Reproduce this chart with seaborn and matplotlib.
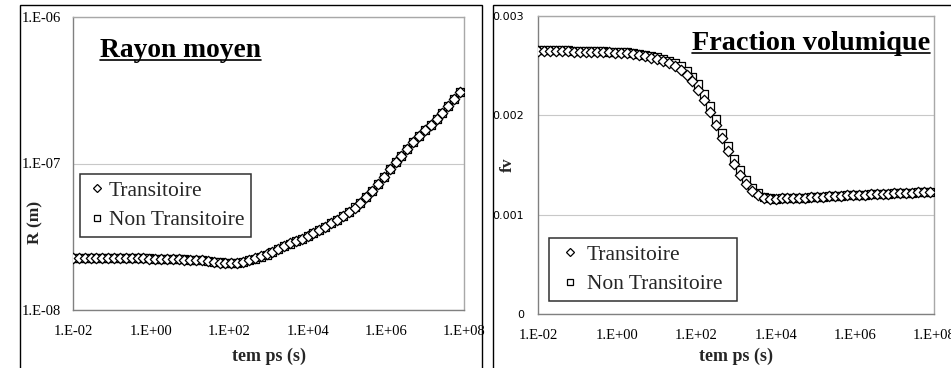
import matplotlib
matplotlib.use("Agg")
import matplotlib.pyplot as plt
from matplotlib.lines import Line2D
from matplotlib.patches import Rectangle
from matplotlib.ticker import FuncFormatter, FixedLocator, NullLocator
import seaborn as sns
import numpy as np

# Data

# time exponents, t = 10**exp  (s)
t_exp = [-2.00, -1.85, -1.70, -1.55, -1.40, -1.25, -1.10, -0.95, -0.80, -0.65,
         -0.50, -0.35, -0.20, -0.05, 0.10, 0.25, 0.40, 0.55, 0.70, 0.85,
         1.00, 1.15, 1.30, 1.45, 1.60, 1.75, 1.90, 2.05, 2.20, 2.35,
         2.50, 2.65, 2.80, 2.95, 3.10, 3.25, 3.40, 3.55, 3.70, 3.85,
         4.00, 4.15, 4.30, 4.45, 4.60, 4.75, 4.90, 5.05, 5.20, 5.35,
         5.50, 5.65, 5.80, 5.95, 6.10, 6.25, 6.40, 6.55, 6.70, 6.85,
         7.00, 7.15, 7.30, 7.45, 7.60, 7.75, 7.90]

# mean radius, units of 1e-8 m
r_trans = [2.27, 2.27, 2.27, 2.27, 2.27, 2.27, 2.27, 2.27, 2.26, 2.26,
           2.26, 2.26, 2.25, 2.24, 2.23, 2.23, 2.22, 2.22, 2.22, 2.21,
           2.21, 2.20, 2.18, 2.15, 2.12, 2.10, 2.09, 2.08, 2.10, 2.14,
           2.19, 2.25, 2.32, 2.40, 2.50, 2.62, 2.74, 2.85, 2.96, 3.07,
           3.20, 3.35, 3.52, 3.70, 3.90, 4.12, 4.37, 4.65, 5.00, 5.40,
           5.90, 6.45, 7.20, 8.10, 9.20, 10.3, 11.3, 12.6, 14.0, 15.4,
           16.8, 18.4, 20.2, 22.2, 24.6, 27.5, 31.0]
r_non_trans = [2.27, 2.27, 2.27, 2.27, 2.27, 2.27, 2.27, 2.27, 2.27, 2.26,
               2.26, 2.26, 2.26, 2.25, 2.24, 2.23, 2.23, 2.22, 2.22, 2.22,
               2.21, 2.21, 2.19, 2.16, 2.13, 2.11, 2.09, 2.09, 2.10, 2.13,
               2.18, 2.24, 2.31, 2.39, 2.49, 2.61, 2.73, 2.84, 2.95, 3.07,
               3.20, 3.35, 3.52, 3.70, 3.90, 4.12, 4.37, 4.66, 5.01, 5.41,
               5.91, 6.46, 7.22, 8.12, 9.22, 10.3, 11.3, 12.6, 14.0, 15.4,
               16.8, 18.4, 20.2, 22.2, 24.6, 27.5, 31.0]

# volume fraction, units of 1e-3
fv_trans = [2.65, 2.65, 2.65, 2.65, 2.65, 2.65, 2.64, 2.64, 2.64, 2.64,
            2.64, 2.64, 2.64, 2.63, 2.63, 2.63, 2.62, 2.61, 2.60, 2.58,
            2.57, 2.55, 2.53, 2.50, 2.46, 2.41, 2.35, 2.26, 2.15, 2.03,
            1.90, 1.77, 1.64, 1.51, 1.40, 1.31, 1.24, 1.20, 1.17, 1.16,
            1.16, 1.17, 1.17, 1.17, 1.17, 1.17, 1.18, 1.18, 1.18, 1.19,
            1.19, 1.19, 1.20, 1.20, 1.20, 1.20, 1.21, 1.21, 1.21, 1.21,
            1.22, 1.22, 1.22, 1.22, 1.23, 1.23, 1.23]
fv_non_trans = [2.66, 2.66, 2.66, 2.66, 2.66, 2.66, 2.65, 2.65, 2.65, 2.65,
                2.65, 2.65, 2.64, 2.64, 2.64, 2.64, 2.63, 2.62, 2.61, 2.60,
                2.59, 2.57, 2.55, 2.53, 2.50, 2.45, 2.39, 2.32, 2.21, 2.09,
                1.96, 1.82, 1.69, 1.56, 1.45, 1.35, 1.27, 1.22, 1.18, 1.17,
                1.16, 1.17, 1.17, 1.17, 1.17, 1.17, 1.18, 1.18, 1.18, 1.19,
                1.19, 1.19, 1.20, 1.20, 1.20, 1.20, 1.21, 1.21, 1.21, 1.21,
                1.22, 1.22, 1.22, 1.22, 1.23, 1.23, 1.23]

labels = ["Transitoire", "Non Transitoire"]

t = 10.0 ** np.array(t_exp)
R_t = np.array(r_trans) * 1e-8
R_nt = np.array(r_non_trans) * 1e-8
F_t = np.array(fv_trans) * 1e-3
F_nt = np.array(fv_non_trans) * 1e-3

# Style

sns.set_style("white")
plt.rcParams["font.family"] = ["Liberation Serif", "DejaVu Serif"]

W, H = 951, 368
fig = plt.figure(figsize=(W / 100, H / 100), dpi=100)


def fx(px):
    return px / W


def fy(py):
    return 1 - py / H


# outer panel frames
for x0, x1 in [(20, 482), (493, 960)]:
    fig.patches.append(Rectangle((fx(x0), -0.1), fx(x1) - fx(x0), fy(5) + 0.1,
                                 transform=fig.transFigure, fill=False,
                                 edgecolor="black", linewidth=1.0))

ax1 = fig.add_axes([fx(73), fy(310), fx(464) - fx(73), fy(17) - fy(310)])
ax2 = fig.add_axes([fx(538), fy(314), fx(934) - fx(538), fy(16) - fy(314)])

for ax, y_t, y_nt in [(ax1, R_t, R_nt), (ax2, F_t, F_nt)]:
    sns.scatterplot(x=t, y=y_nt, marker="s", s=32, color="white",
                    edgecolor="black", linewidth=0.9, ax=ax, zorder=3)
    sns.scatterplot(x=t, y=y_t, marker="D", s=28, color="white",
                    edgecolor="black", linewidth=0.9, ax=ax, zorder=4)
    ax.set_xscale("log")
    ax.set_xlim(1e-2, 1e8)
    ax.xaxis.set_major_locator(FixedLocator([1e-2, 1e0, 1e2, 1e4, 1e6, 1e8]))
    ax.xaxis.set_minor_locator(NullLocator())
    ax.xaxis.set_major_formatter(
        FuncFormatter(lambda v, p: "1.E%+03d" % int(round(np.log10(v)))))
    for side in ["top", "right"]:
        ax.spines[side].set_color("#a8a8a8")
    for side in ["left", "bottom"]:
        ax.spines[side].set_color("#808080")
    for sp in ax.spines.values():
        sp.set_linewidth(1.0)
        sp.set_visible(True)
    ax.tick_params(axis="both", which="major", direction="out", length=5,
                   width=1, color="#808080", labelsize=10.5, labelcolor="black")
    ax.tick_params(axis="x", pad=7, length=4)
    ax.tick_params(axis="y", pad=4)
    ax.grid(True, axis="y", color="#c8c8c8", linewidth=0.8)
    ax.grid(False, axis="x")
    ax.set_axisbelow(True)
    ax.set_xlabel("tem ps (s)", fontsize=13, fontweight="bold")

ax1.xaxis.labelpad = 7
ax2.xaxis.labelpad = 4

ax1.set_yscale("log")
ax1.set_ylim(1e-8, 1e-6)
ax1.yaxis.set_major_locator(FixedLocator([1e-8, 1e-7, 1e-6]))
ax1.yaxis.set_minor_locator(NullLocator())
ax1.yaxis.set_major_formatter(
    FuncFormatter(lambda v, p: "1.E%+03d" % int(round(np.log10(v)))))
ax1.set_ylabel("R (m)", fontsize=12.5, fontweight="bold")
ax1.yaxis.set_label_coords(-0.075, 0.30)

ax2.set_ylim(0, 0.003)
ax2.yaxis.set_major_locator(FixedLocator([0, 0.001, 0.002, 0.003]))
ax2.yaxis.set_major_formatter(
    FuncFormatter(lambda v, p: "0" if v == 0 else "%.3f" % v))
ax2.tick_params(axis="y", pad=5)
for lab in ax2.get_yticklabels():
    lab.set_fontfamily("DejaVu Sans")
    lab.set_fontsize(8)
ax2.set_ylabel("fv", fontsize=12.5, fontweight="bold")
ax2.yaxis.set_label_coords(-0.055, 0.5)

# Legends

handles = [
    Line2D([], [], linestyle="none", marker="D", markersize=4.5,
           markerfacecolor="white", markeredgecolor="black", markeredgewidth=0.9),
    Line2D([], [], linestyle="none", marker="s", markersize=5,
           markerfacecolor="white", markeredgecolor="black", markeredgewidth=0.9),
]
leg_kw = dict(prop={"family": "Liberation Serif", "size": 15.5},
              fancybox=False, shadow=False, framealpha=1, borderaxespad=0,
              labelspacing=0.45, handletextpad=0.1, loc="upper left",
              bbox_transform=fig.transFigure)

leg1 = ax1.legend(handles, labels, bbox_to_anchor=(fx(80), fy(174)),
                  borderpad=0.3, handlelength=0.95, **leg_kw)
leg2 = ax2.legend(handles, labels,
                  bbox_to_anchor=(fx(549), fy(302), fx(737) - fx(549), fy(238) - fy(302)),
                  mode="expand", borderpad=0.3, handlelength=1.35, **leg_kw)
for leg in (leg1, leg2):
    leg.get_frame().set_edgecolor("#303030")
    leg.get_frame().set_linewidth(1.1)

# Underlined titles

titles = [("Rayon moyen", 100, 57, 60, 19.8), ("Fraction volumique", 692, 50, 53, 20.3)]
fig.canvas.draw()
renderer = fig.canvas.get_renderer()
for txt, px, py, uy, fs in titles:
    tt = fig.text(fx(px), fy(py), txt, fontsize=fs, fontweight="bold",
                  ha="left", va="baseline", color="black")
    bb = tt.get_window_extent(renderer)
    fig.add_artist(Line2D([bb.x0 / W, bb.x1 / W], [fy(uy), fy(uy)],
                          transform=fig.transFigure, color="black", linewidth=1.2))

fig.savefig("out.png", dpi=100)
